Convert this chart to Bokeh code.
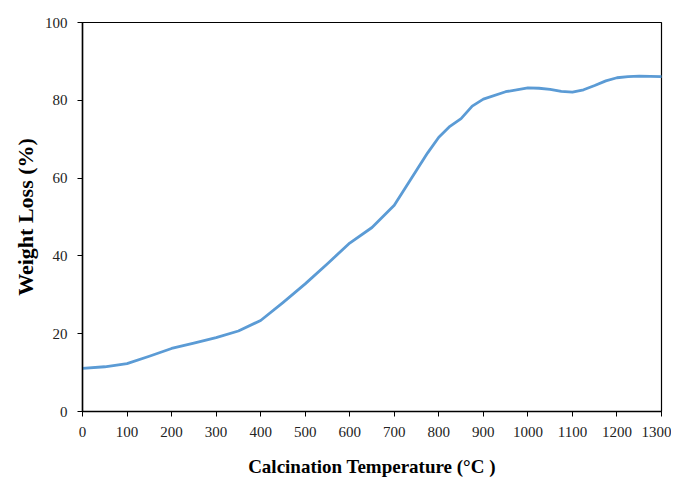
from bokeh.plotting import figure
from bokeh.models import Range1d, FixedTicker
from bokeh.embed import file_html
from bokeh.resources import INLINE

temperature = [0, 50, 100, 150, 200, 250, 300, 350, 400, 450, 500, 550, 600, 650,
               700, 725, 750, 775, 800, 825, 850, 875, 900, 950, 1000, 1025, 1050,
               1075, 1100, 1125, 1150, 1175, 1200, 1225, 1250, 1300]
weight_loss = [11.1, 11.5, 12.3, 14.2, 16.2, 17.6, 19.0, 20.7, 23.4, 28.0, 32.8, 38.0,
               43.3, 47.3, 53.0, 57.5, 62.0, 66.5, 70.5, 73.3, 75.3, 78.5, 80.3, 82.2,
               83.2, 83.1, 82.8, 82.3, 82.1, 82.7, 83.8, 85.0, 85.8, 86.1, 86.2, 86.1]
x_ticks = list(range(0, 1301, 100))
y_ticks = [0, 20, 40, 60, 80, 100]

p = figure(width=671, height=481, output_backend="svg", toolbar_location=None,
           x_range=Range1d(0, 1300), y_range=Range1d(0, 100),
           min_border_left=82, min_border_right=10, min_border_top=22, min_border_bottom=70)

p.line(temperature, weight_loss, line_color="#5B9BD5", line_width=2.8,
       line_join="round", line_cap="round")

p.xgrid.visible = False
p.ygrid.visible = False
p.outline_line_color = "black"
p.outline_line_width = 1.2

for ax in (p.xaxis[0], p.yaxis[0]):
    ax.axis_line_color = "black"
    ax.axis_line_width = 1.5
    ax.major_tick_in = 0
    ax.major_tick_out = 5
    ax.major_tick_line_color = "black"
    ax.minor_tick_line_color = None
    ax.major_label_text_font = "Liberation Sans Narrow"
    ax.major_label_text_font_size = "15px"
    ax.major_label_text_color = "#222222"
    ax.axis_label_text_font = "Liberation Serif"
    ax.axis_label_text_font_style = "bold"
    ax.axis_label_text_color = "black"

p.xaxis[0].axis_label_text_font_size = "19px"
p.yaxis[0].axis_label_text_font_size = "22px"
p.xaxis[0].ticker = FixedTicker(ticks=x_ticks)
p.yaxis[0].ticker = FixedTicker(ticks=y_ticks)
p.xaxis[0].major_label_standoff = 10
p.yaxis[0].major_label_standoff = 10
p.xaxis[0].axis_label = "Calcination Temperature (\u00b0C )"
p.yaxis[0].axis_label = "Weight Loss (%)"
p.xaxis[0].axis_label_standoff = 16
p.yaxis[0].axis_label_standoff = 4

open("out.html", "w").write(file_html(p, INLINE))
